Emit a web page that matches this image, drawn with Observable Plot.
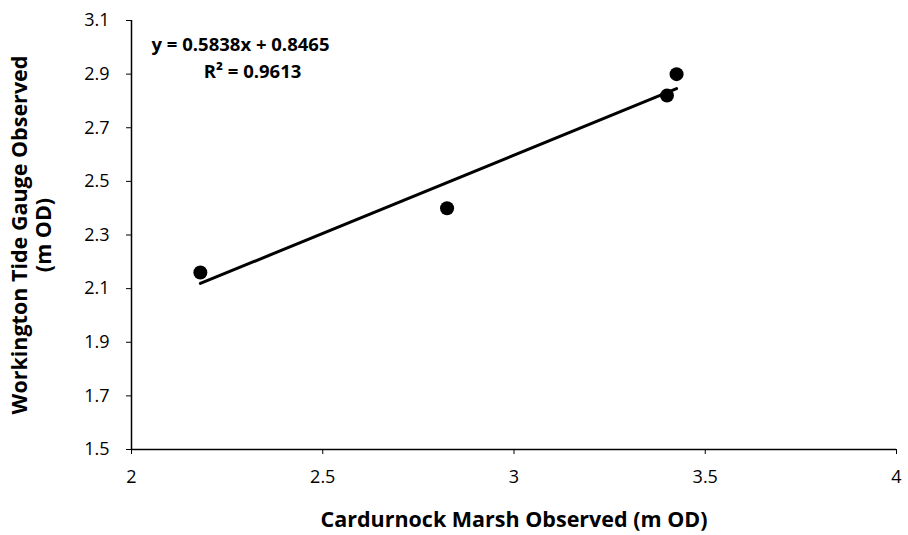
<!DOCTYPE html>
<html>
<head>
<meta charset="utf-8">
<script src="https://cdn.jsdelivr.net/npm/d3@7"></script>
<script src="https://cdn.jsdelivr.net/npm/@observablehq/plot@0.6"></script>
<style>
  html, body { margin: 0; padding: 0; background: #fff; }
  #chart svg { display: block; }
</style>
</head>
<body>
<div id="chart"></div>
<script>
// Observed peak water levels (m OD) at the two sites
const cardurnock = [2.18, 2.825, 3.40, 3.425];
const workington = [2.16, 2.40, 2.82, 2.90];

// Linear trendline reported for the scatter
const slope = 0.5838;
const intercept = 0.8465;
const rSquared = 0.9613;

const xTicks = [2, 2.5, 3, 3.5, 4];
const yTicks = [1.5, 1.7, 1.9, 2.1, 2.3, 2.5, 2.7, 2.9, 3.1];

const points = cardurnock.map((x, i) => ({x, y: workington[i]}));
const xMin = d3.min(cardurnock), xMax = d3.max(cardurnock);
const trend = [xMin, xMax].map(x => ({x, y: slope * x + intercept}));

const font = "'Open Sans', 'Noto Sans', sans-serif";

const chart = Plot.plot({
  width: 908,
  height: 535,
  marginLeft: 131,
  marginRight: 12,
  marginTop: 20,
  marginBottom: 86,
  style: {fontFamily: font, fontSize: "18px", color: "#000", background: "#fff"},
  x: {domain: [2, 4], ticks: xTicks, tickFormat: d => String(d)},
  y: {domain: [1.5, 3.1], ticks: yTicks, tickFormat: d => d.toFixed(1)},
  marks: [
    Plot.axisX({ticks: xTicks, tickSize: 5, tickPadding: 16, label: null, tickFormat: d => String(d), fontSize: 18}),
    Plot.axisY({ticks: yTicks, tickSize: 5, tickPadding: 17, label: null, tickFormat: d => d.toFixed(1), fontSize: 18}),
    Plot.ruleY([1.5], {stroke: "#000", strokeWidth: 1.5}),
    Plot.ruleX([2], {stroke: "#000", strokeWidth: 1.5}),
    Plot.line(trend, {x: "x", y: "y", stroke: "#000", strokeWidth: 3}),
    Plot.dot(points, {x: "x", y: "y", r: 7, fill: "#000", stroke: "none"}),
    Plot.text([`y = ${slope}x + ${intercept}`], {
      frameAnchor: "top-left",
      textAnchor: "middle",
      lineAnchor: "middle",
      dx: 109,
      dy: 25,
      fontSize: 18.5,
      fontWeight: "bold",
      fill: "#000"
    }),
    Plot.text([`R² = ${rSquared}`], {
      frameAnchor: "top-left",
      textAnchor: "middle",
      lineAnchor: "middle",
      dx: 121,
      dy: 52,
      fontSize: 18.5,
      fontWeight: "bold",
      fill: "#000"
    }),
    Plot.text(["Cardurnock Marsh Observed (m OD)"], {
      frameAnchor: "bottom",
      textAnchor: "middle",
      lineAnchor: "middle",
      dy: 71,
      fontSize: 21.5,
      fontWeight: "bold",
      fill: "#000"
    }),
    Plot.text(["Workington Tide Gauge Observed\n(m OD)"], {
      frameAnchor: "left",
      textAnchor: "middle",
      lineAnchor: "middle",
      dx: -100,
      rotate: -90,
      lineHeight: 1.12,
      fontSize: 21.5,
      fontWeight: "bold",
      fill: "#000"
    })
  ]
});

document.getElementById("chart").appendChild(chart);
</script>
</body>
</html>
